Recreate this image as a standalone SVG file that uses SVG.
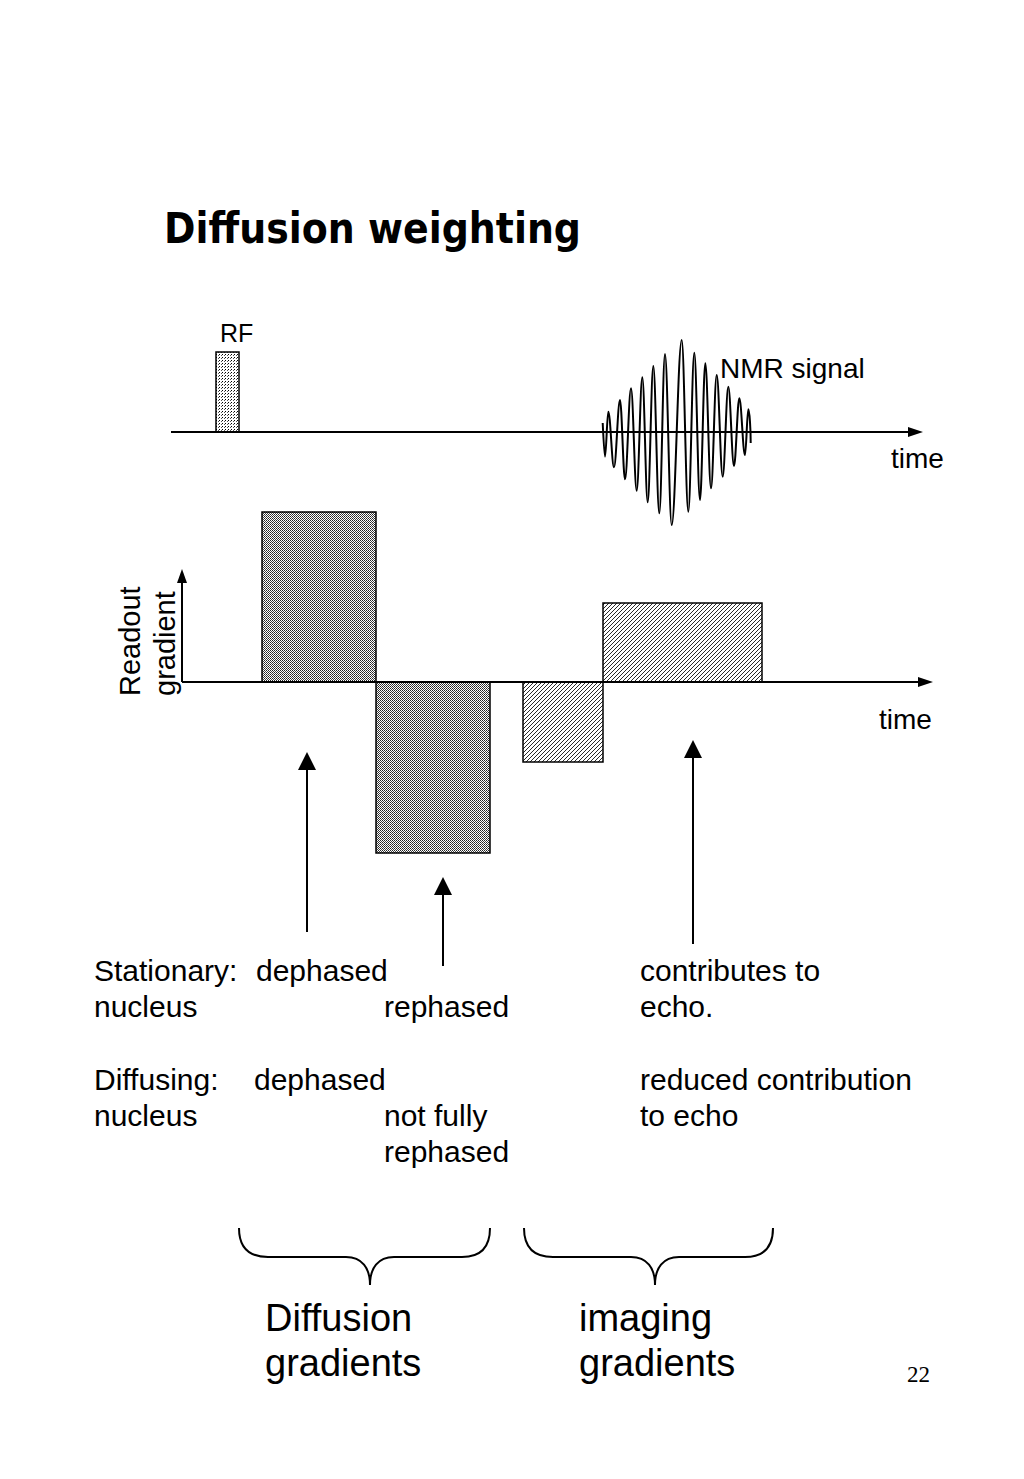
<svg xmlns="http://www.w3.org/2000/svg" width="1024" height="1479" viewBox="0 0 1024 1479">
<style>
.ln{stroke:#000;stroke-width:2;fill:none}
.t{font-family:"Liberation Sans",Arial,sans-serif;fill:#000}
.s30{font-size:30px}
.big{font-size:38px}
.blk{stroke:#000;stroke-width:1.5}
.head{fill:#000;stroke:none}
</style>
<defs>
<pattern id="dots" width="3" height="3" patternUnits="userSpaceOnUse">
<rect width="3" height="3" fill="#fff"/>
<rect x="0" y="0" width="1" height="1" fill="#000"/>
<rect x="2" y="1" width="1" height="1" fill="#555"/>
</pattern>
<pattern id="check" width="2" height="2" patternUnits="userSpaceOnUse">
<rect width="2" height="2" fill="#fff"/>
<rect x="0" y="0" width="1" height="1" fill="#222"/>
<rect x="1" y="1" width="1" height="1" fill="#444"/>
</pattern>
<pattern id="hatch" width="4" height="4" patternUnits="userSpaceOnUse">
<rect width="4" height="4" fill="#fff"/>
<path d="M0,4 L4,0 M-1,1 L1,-1 M3,5 L5,3" stroke="#111" stroke-width="0.9"/>
</pattern>
</defs>
<rect width="1024" height="1479" fill="#fff"/>

<text id="title" x="164" y="243" font-family="'Comic Sans MS','DejaVu Sans',sans-serif" font-weight="bold" font-size="42" textLength="417" lengthAdjust="spacingAndGlyphs">Diffusion weighting</text>

<g id="rf-pulse">
<rect x="216" y="352" width="23" height="80" fill="url(#dots)" class="blk"/>
<text class="t" x="220" y="342" font-size="25">RF</text>
</g>

<g id="nmr-signal">
<path class="ln" stroke-width="1.8" d="M602.7,423 C603.5,440 604.3,456.7 605,456.7 C606.2,456.7 607.1,411.7 608.3,411.7 C610.4,411.7 611.9,467.3 614,467.3 C616.2,467.3 617.8,400 620,400 C621.8,400 623.2,479.3 625,479.3 C627.2,479.3 628.8,388.3 631,388.3 C633.1,388.3 634.6,490.7 636.7,490.7 C638.7,490.7 640.3,377.3 642.3,377.3 C644.3,377.3 645.7,502.3 647.7,502.3 C649.7,502.3 651.3,366 653.3,366 C655.5,366 657.1,513.3 659.3,513.3 C661.4,513.3 662.9,354 665,354 C667.4,354 669.3,525 671.7,525 C675.3,525 678.1,340 681.7,340 C684.1,340 685.9,511.7 688.3,511.7 C690.5,511.7 692.1,352.7 694.3,352.7 C696.4,352.7 697.9,500 700,500 C701.9,500 703.4,363.3 705.3,363.3 C707.4,363.3 708.9,488.3 711,488.3 C713.1,488.3 714.6,375 716.7,375 C718.9,375 720.5,476.7 722.7,476.7 C724.7,476.7 726.3,386.7 728.3,386.7 C730.4,386.7 731.9,466 734,466 C735.9,466 737.4,398.3 739.3,398.3 C741.4,398.3 742.9,455 745,455 C746.2,455 747.1,409.3 748.3,409.3 C749.5,409.3 750.7,430 750.7,443"/>
<text class="t" x="720" y="378" font-size="28">NMR signal</text>
</g>

<g id="gradient-blocks">
<rect id="diff1" x="262" y="512" width="114" height="170" fill="url(#check)" class="blk"/>
<rect id="diff2" x="376" y="682" width="114" height="171" fill="url(#check)" class="blk"/>
<rect id="img1" x="523" y="682" width="80" height="80" fill="url(#hatch)" class="blk"/>
<rect id="img2" x="603" y="603" width="159" height="79" fill="url(#hatch)" class="blk"/>
</g>

<g id="connectors">
<line class="ln" x1="171" y1="432" x2="910" y2="432"/>
<polygon class="head" points="923,432 908,427 908,437"/>
<line class="ln" x1="182" y1="682" x2="920" y2="682"/>
<polygon class="head" points="933,682 918,677 918,687"/>
<line class="ln" x1="182" y1="682" x2="182" y2="582"/>
<polygon class="head" points="182,569 177,583 187,583"/>
<line class="ln" x1="307" y1="932" x2="307" y2="768"/>
<polygon class="head" points="307,752 298,770 316,770"/>
<line class="ln" x1="443" y1="966" x2="443" y2="893"/>
<polygon class="head" points="443,877 434,895 452,895"/>
<line class="ln" x1="693" y1="944" x2="693" y2="756"/>
<polygon class="head" points="693,740 684,758 702,758"/>
</g>

<g id="axis-labels">
<text class="t" x="891" y="468" font-size="28">time</text>
<text class="t" x="879" y="729" font-size="28">time</text>
<text class="t" font-size="29" transform="translate(140,696) rotate(-90)">Readout</text>
<text class="t" font-size="29" transform="translate(175,696) rotate(-90)">gradient</text>
</g>

<g id="descriptions" class="t s30">
<text x="94" y="981">Stationary:</text>
<text x="256" y="981">dephased</text>
<text x="94" y="1017">nucleus</text>
<text x="384" y="1017">rephased</text>
<text x="94" y="1090">Diffusing:</text>
<text x="254" y="1090">dephased</text>
<text x="94" y="1126">nucleus</text>
<text x="384" y="1126">not fully</text>
<text x="384" y="1162">rephased</text>
<text x="640" y="981">contributes to</text>
<text x="640" y="1017">echo.</text>
<text x="640" y="1090">reduced contribution</text>
<text x="640" y="1126">to echo</text>
</g>

<g id="braces">
<path class="ln" stroke-width="1.5" d="M239,1228 C239,1248 250,1257 268,1257 L346,1257 C362,1257 370,1268 370,1285 C370,1268 378,1257 394,1257 L462,1257 C480,1257 490,1248 490,1228"/>
<path class="ln" stroke-width="1.5" d="M524,1228 C524,1248 535,1257 553,1257 L631,1257 C647,1257 655,1268 655,1285 C655,1268 663,1257 679,1257 L745,1257 C763,1257 773,1248 773,1228"/>
</g>

<g id="brace-labels" class="t big">
<text x="265" y="1331">Diffusion</text>
<text x="265" y="1376">gradients</text>
<text x="579" y="1331">imaging</text>
<text x="579" y="1376">gradients</text>
</g>
<text x="907" y="1382" font-family="'Liberation Serif','Times New Roman',serif" font-size="23">22</text>
</svg>
